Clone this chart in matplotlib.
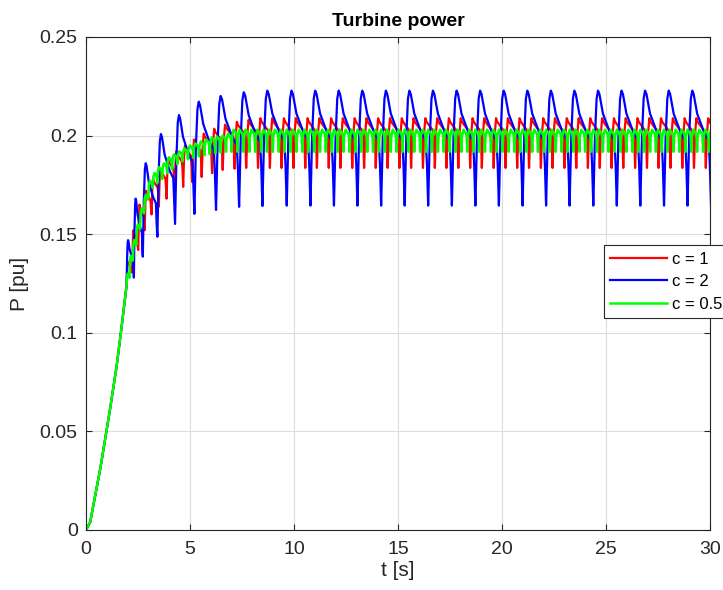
import numpy as np
import matplotlib
matplotlib.use("Agg")
import matplotlib.pyplot as plt

plt.rcParams['font.family'] = ['Liberation Sans', 'DejaVu Sans']

# ---------------- data ----------------
# common initial rise (before the oscillations start)
rise_t = [0.0, 0.2, 0.43, 0.7, 0.91, 1.15, 1.47, 1.71, 1.95]
rise_p = [0.0, 0.004, 0.017, 0.032, 0.0456, 0.061, 0.083, 0.103, 0.124]

# c = 2 (blue): cycle start (trough) times, trough values, peak values of each cycle
blue_trough_t = [1.95, 2.30, 2.73, 3.43, 4.28, 5.21, 6.25, 7.36, 8.48,
                 9.65, 10.79, 11.92, 13.05, 14.19, 15.32, 16.45, 17.59, 18.72, 19.85,
                 20.99, 22.12, 23.25, 24.39, 25.52, 26.65, 27.79, 28.92, 30.05]
blue_trough_p = [0.124, 0.128, 0.1386, 0.1487, 0.1552, 0.1603, 0.1623,
                 0.1639, 0.1643] + [0.1645] * 19
blue_peak_p = [0.147, 0.168, 0.186, 0.2008, 0.2104, 0.2172, 0.2201,
               0.2220, 0.2228] + [0.2228] * 18
# shape of one cycle: phase within the cycle, level between trough (0) and peak (1)
blue_shape_phase = [0.0, 0.07, 0.14, 0.20, 0.26, 0.41, 0.70, 0.90, 0.95]
blue_shape_level = [0.0, 0.60, 0.93, 1.00, 0.97, 0.80, 0.64, 0.57, 0.35]

# c = 1 (red)
red_trough_t = [1.95, 2.22, 2.51, 2.82, 3.15, 3.50, 3.87, 4.26, 4.67, 5.10, 5.56, 6.06,
                6.57, 7.14, 7.70, 8.27, 8.84, 9.40, 9.97, 10.54, 11.10, 11.67, 12.23,
                12.80, 13.37, 13.93, 14.50, 15.07, 15.63, 16.20, 16.77, 17.33, 17.90,
                18.47, 19.03, 19.60, 20.17, 20.73, 21.30, 21.87, 22.43, 23.00, 23.57,
                24.13, 24.70, 25.27, 25.83, 26.40, 26.97, 27.53, 28.10, 28.67, 29.23,
                29.80, 30.37]
red_trough_p = [0.124, 0.132, 0.142, 0.152, 0.160, 0.164, 0.168, 0.171, 0.174, 0.1765,
                0.179, 0.181, 0.1826, 0.1832] + [0.1836] * 41
red_peak_p = [0.136, 0.152, 0.165, 0.172, 0.178, 0.183, 0.188, 0.192, 0.195, 0.198,
              0.201, 0.2035, 0.2055, 0.207, 0.208] + [0.2088] * 39
red_shape_phase = [0.0, 0.10, 0.20, 0.30, 0.85, 0.93]
red_shape_level = [0.0, 0.70, 1.00, 0.93, 0.75, 0.55]

# c = 0.5 (green)
green_trough_t = [1.95, 2.10, 2.26, 2.43, 2.61, 2.80, 3.00, 3.21, 3.43, 3.66, 3.90, 4.14,
                  4.39, 4.64, 4.90, 5.16, 5.43, 5.69, 5.95, 6.21, 6.47, 6.73,
                  7.00, 7.28, 7.57, 7.85, 8.13, 8.42, 8.70, 8.98, 9.27, 9.55, 9.83, 10.12,
                  10.40, 10.68, 10.97, 11.25, 11.53, 11.82, 12.10, 12.38, 12.67, 12.95,
                  13.23, 13.52, 13.80, 14.08, 14.37, 14.65, 14.93, 15.22, 15.50, 15.78,
                  16.07, 16.35, 16.63, 16.92, 17.20, 17.48, 17.77, 18.05, 18.33, 18.62,
                  18.90, 19.18, 19.47, 19.75, 20.03, 20.32, 20.60, 20.88, 21.17, 21.45,
                  21.73, 22.02, 22.30, 22.58, 22.87, 23.15, 23.43, 23.72, 24.00, 24.28,
                  24.57, 24.85, 25.13, 25.42, 25.70, 25.98, 26.27, 26.55, 26.83, 27.12,
                  27.40, 27.68, 27.97, 28.25, 28.53, 28.82, 29.10, 29.38, 29.67, 29.95,
                  30.23]
green_trough_p = [0.124, 0.132, 0.140, 0.148, 0.156, 0.163, 0.170, 0.1735, 0.176, 0.178,
                  0.181, 0.183, 0.1855, 0.187, 0.188, 0.1888, 0.1895, 0.190, 0.1905, 0.191,
                  0.1915, 0.1918] + [0.1918] * 83
green_peak_p = [0.130, 0.139, 0.147, 0.155, 0.163, 0.170, 0.177, 0.181, 0.184, 0.186,
                0.189, 0.1905, 0.192, 0.1935, 0.195, 0.196, 0.197, 0.198, 0.199, 0.1995,
                0.200, 0.201] + [0.2030] * 82
green_shape_phase = [0.0, 0.10, 0.35, 0.80, 0.90]
green_shape_level = [0.0, 0.70, 1.00, 0.82, 0.65]

legend_labels = ["c = 1", "c = 2", "c = 0.5"]
colors = ["#ff0000", "#0000ff", "#00ff00"]


def build(tt, tp, pp, ph, lv):
    t = [x for x in rise_t if x < tt[0]]
    p = [y for x, y in zip(rise_t, rise_p) if x < tt[0]]
    for k in range(len(pp)):
        T = tt[k + 1] - tt[k]
        for f, l in zip(ph, lv):
            t.append(tt[k] + f * T)
            p.append(tp[k] + l * (pp[k] - tp[k]))
    t.append(tt[-1])
    p.append(tp[-1])
    return np.array(t), np.array(p)


fig = plt.figure(figsize=(7.23, 5.90), dpi=100)
ax = fig.add_axes([0.119, 0.1017, 0.863, 0.8356])

rt, rp = build(red_trough_t, red_trough_p, red_peak_p, red_shape_phase, red_shape_level)
bt, bp = build(blue_trough_t, blue_trough_p, blue_peak_p, blue_shape_phase, blue_shape_level)
gt, gp = build(green_trough_t, green_trough_p, green_peak_p, green_shape_phase, green_shape_level)

ax.plot(rt, rp, color=colors[0], lw=1.6, label=legend_labels[0])
ax.plot(bt, bp, color=colors[1], lw=1.6, label=legend_labels[1])
ax.plot(gt, gp, color=colors[2], lw=1.8, label=legend_labels[2])

ax.set_xlim(0, 30)
ax.set_ylim(0, 0.25)
ax.set_xticks([0, 5, 10, 15, 20, 25, 30])
ax.set_yticks([0, 0.05, 0.1, 0.15, 0.2, 0.25])
ax.set_yticklabels(["0", "0.05", "0.1", "0.15", "0.2", "0.25"])
ax.grid(True, color="#dcdcdc", lw=0.8)
ax.set_axisbelow(True)
ax.tick_params(direction="in", top=True, right=True, labelsize=14, colors="#262626",
               length=4, width=0.8)
ax.tick_params(axis="x", pad=8)
ax.tick_params(axis="y", pad=6)
for s in ax.spines.values():
    s.set_color("#262626")
    s.set_linewidth(0.8)
ax.set_title("Turbine power", fontsize=14, fontweight="bold", color="black", pad=8)
ax.set_xlabel("t [s]", fontsize=15, color="#262626", labelpad=2)
ax.set_ylabel("P [pu]", fontsize=15, color="#262626", labelpad=8)
leg = fig.legend(loc="upper left", bbox_to_anchor=(0.835, 0.585), fontsize=12, frameon=True,
                 fancybox=False, edgecolor="#262626", framealpha=1, borderpad=0.4,
                 borderaxespad=0, handlelength=3.4, handletextpad=0.3, labelspacing=0.45)
leg.get_frame().set_linewidth(0.8)
fig.savefig("out.png", dpi=100)
